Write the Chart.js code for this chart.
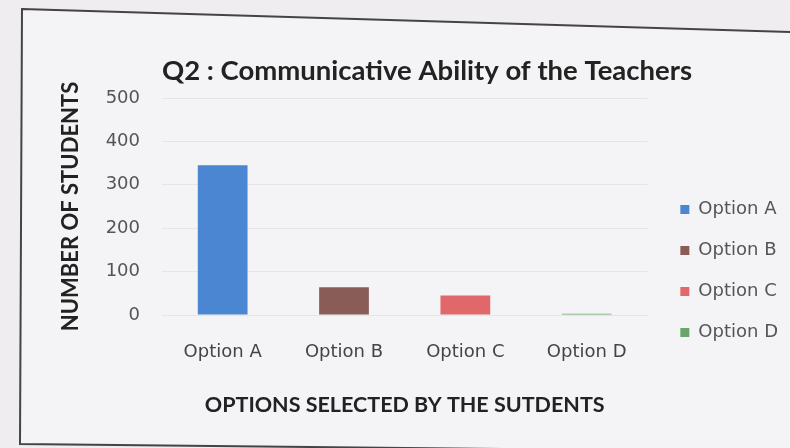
<!DOCTYPE html>
<html>
<head>
<meta charset="utf-8">
<script src="https://cdn.jsdelivr.net/npm/chart.js@4.4.1/dist/chart.umd.min.js"></script>
<style>
  html, body { margin: 0; padding: 0; background: #efedef; }
  #wrap { width: 790px; height: 448px; position: relative; }
</style>
</head>
<body>
<div id="wrap"><canvas id="c" width="790" height="448"></canvas></div>
<script>
const categories = ['Option A', 'Option B', 'Option C', 'Option D'];
const studentCounts = [345, 64, 45, 3];
const barColors = ['#4a86d2', '#8a5c58', '#e0686a', '#6aa66a'];
const yTicks = [0, 100, 200, 300, 400, 500];
const chartTitle = 'Q2 : Communicative Ability of the Teachers';
const xAxisTitle = 'OPTIONS SELECTED BY THE SUTDENTS';
const yAxisTitle = 'NUMBER OF STUDENTS';

const framePlugin = {
  id: 'frame',
  beforeDraw(chart) {
    const ctx = chart.ctx;
    ctx.save();
    ctx.fillStyle = '#efedef';
    ctx.fillRect(0, 0, chart.width, chart.height);
    ctx.beginPath();
    ctx.moveTo(22, 9);
    ctx.lineTo(792, 32);
    ctx.lineTo(792, 452);
    ctx.lineTo(20, 444);
    ctx.closePath();
    ctx.fillStyle = '#f4f3f5';
    ctx.fill();
    ctx.strokeStyle = '#444';
    ctx.lineWidth = 2;
    ctx.stroke();
    ctx.restore();
  }
};

// small placement nudges for the legend block and the title
const nudgePlugin = {
  id: 'nudge',
  afterUpdate(chart) {
    if (chart.legend) {
      chart.legend.left += 10;
      chart.legend.right += 10;
      if (chart.legend.adjustHitBoxes) chart.legend.adjustHitBoxes();
    }
    if (chart.titleBlock) {
      chart.titleBlock.left += 9;
      chart.titleBlock.right += 9;
    }
  }
};

new Chart(document.getElementById('c'), {
  type: 'bar',
  data: {
    labels: categories,
    datasets: [{
      label: 'Students',
      data: studentCounts,
      backgroundColor: barColors,
      borderWidth: 0,
      barPercentage: 0.41,
      categoryPercentage: 1.0
    }]
  },
  plugins: [framePlugin, nudgePlugin],
  options: {
    responsive: false,
    animation: false,
    devicePixelRatio: 1,
    layout: { padding: { left: 58, right: 12, top: 0, bottom: 28 } },
    plugins: {
      title: {
        display: true,
        text: chartTitle,
        color: '#222',
        font: { family: 'Lato', size: 27.5, weight: 'bold' },
        padding: { top: 55, bottom: 10 }
      },
      legend: {
        display: true,
        position: 'right',
        align: 'center',
        title: {
          display: true,
          text: '',
          font: { size: 10 },
          padding: { top: 55, bottom: 55 }
        },
        labels: {
          boxWidth: 9,
          boxHeight: 9,
          padding: 23,
          color: '#555',
          font: { family: 'DejaVu Sans', size: 18 },
          generateLabels(chart) {
            return categories.map((c, i) => ({
              text: c,
              fillStyle: barColors[i],
              strokeStyle: barColors[i],
              lineWidth: 0,
              hidden: false,
              index: i,
              fontColor: '#555'
            }));
          }
        }
      },
      tooltip: { enabled: false }
    },
    scales: {
      x: {
        grid: { display: false, drawTicks: false },
        border: { display: false },
        ticks: {
          color: '#444',
          padding: 27,
          font: { family: 'DejaVu Sans', size: 18 }
        },
        title: {
          display: true,
          text: xAxisTitle,
          color: '#222',
          font: { family: 'Lato', size: 21.5, weight: 'bold' },
          padding: { top: 0, bottom: 2 }
        },
        afterFit(scale) { scale.height = 105; }
      },
      y: {
        min: 0,
        max: 500,
        grid: { color: '#e6e4e6', drawTicks: false },
        border: { display: false },
        ticks: {
          stepSize: 100,
          color: '#555',
          padding: 22,
          font: { family: 'DejaVu Sans', size: 18 },
          callback: (v) => yTicks.includes(v) ? String(v) : ''
        },
        title: {
          display: true,
          text: yAxisTitle,
          color: '#222',
          font: { family: 'Lato', size: 22, weight: 'bold' },
          padding: { top: 0, bottom: 0 }
        },
        afterFit(scale) { scale.width = 104; }
      }
    }
  }
});
</script>
</body>
</html>
